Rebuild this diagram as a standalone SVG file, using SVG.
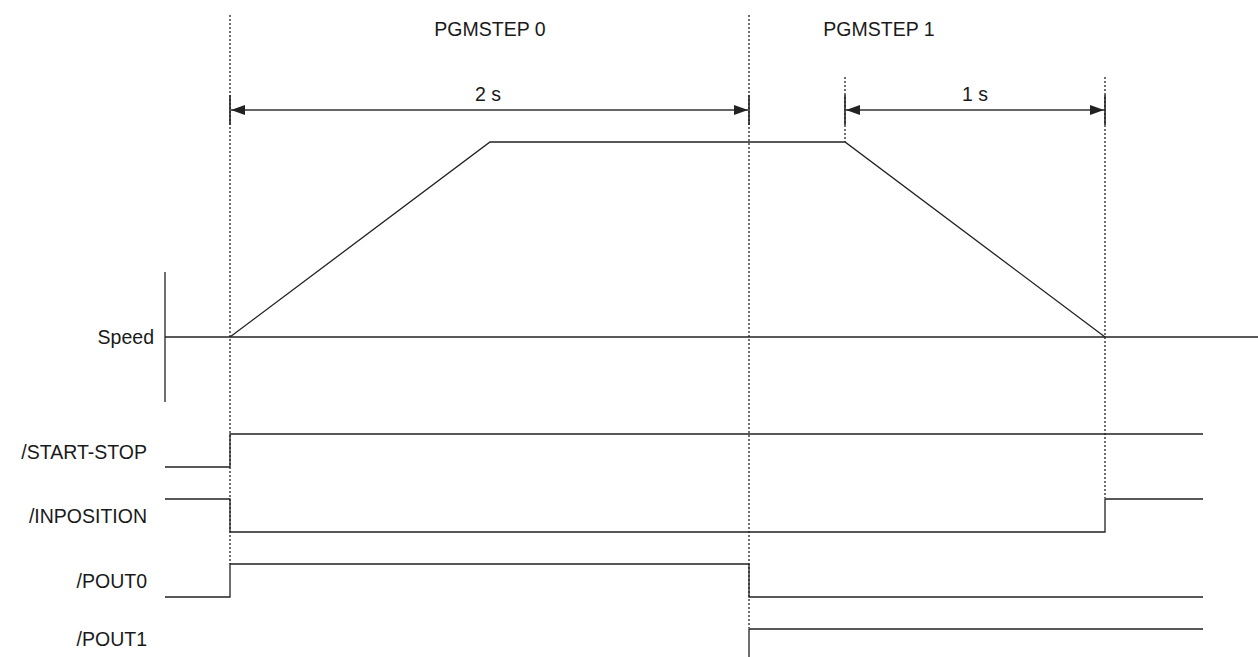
<svg xmlns="http://www.w3.org/2000/svg" width="1258" height="657" viewBox="0 0 1258 657">
<style>
.lbl{font-family:"Liberation Sans",Arial,sans-serif;font-size:19.5px;fill:#1a1a1a}
.sig{fill:none;stroke:#222;stroke-width:1.3}
.dot{fill:none;stroke:#222;stroke-width:1.3;stroke-dasharray:2,2}
.dim{fill:none;stroke:#333;stroke-width:1.3}
.tick{stroke:#222;stroke-width:1.6}
</style>
<defs>
<marker id="ah" viewBox="0 0 14 10" refX="14" refY="5" markerWidth="14" markerHeight="10" markerUnits="userSpaceOnUse" orient="auto-start-reverse">
<path d="M0,0 L14,5 L0,10 z" fill="#222"/>
</marker>
</defs>
<rect width="1258" height="657" fill="#fff"/>
<g id="guides">
<line class="dot" x1="230" y1="15" x2="230" y2="564"/>
<line class="dot" x1="749" y1="15" x2="749" y2="628"/>
<line class="dot" x1="845" y1="77" x2="845" y2="142"/>
<line class="dot" x1="1105" y1="77" x2="1105" y2="498"/>
</g>
<g id="titles">
<text class="lbl" x="490" y="36" text-anchor="middle">PGMSTEP 0</text>
<text class="lbl" x="879" y="36" text-anchor="middle">PGMSTEP 1</text>
</g>
<g id="connectors">
<line class="dim" x1="231" y1="110" x2="748" y2="110" marker-start="url(#ah)" marker-end="url(#ah)"/>
<line class="tick" x1="230" y1="95" x2="230" y2="125"/>
<line class="tick" x1="749" y1="95" x2="749" y2="125"/>
<line class="dim" x1="846" y1="110" x2="1104" y2="110" marker-start="url(#ah)" marker-end="url(#ah)"/>
<line class="tick" x1="845" y1="95" x2="845" y2="125"/>
<line class="tick" x1="1105" y1="95" x2="1105" y2="125"/>
<text class="lbl" x="488" y="101" text-anchor="middle">2 s</text>
<text class="lbl" x="975" y="101" text-anchor="middle">1 s</text>
</g>
<g id="speed">
<text class="lbl" x="154" y="344" text-anchor="end">Speed</text>
<line class="sig" x1="165" y1="272" x2="165" y2="402"/>
<line class="sig" x1="165" y1="337" x2="1258" y2="337"/>
<polyline class="sig" points="230,337 490,142 845,142 1105,337"/>
</g>
<g id="start-stop">
<text class="lbl" x="147" y="459" text-anchor="end">/START-STOP</text>
<polyline class="sig" points="165,467 230,467 230,434 1203,434"/>
</g>
<g id="inposition">
<text class="lbl" x="147" y="523" text-anchor="end">/INPOSITION</text>
<polyline class="sig" points="165,499 230,499 230,532 1105,532 1105,499 1203,499"/>
</g>
<g id="pout0">
<text class="lbl" x="147" y="588" text-anchor="end">/POUT0</text>
<polyline class="sig" points="165,597 230,597 230,564 749,564 749,597 1203,597"/>
</g>
<g id="pout1">
<text class="lbl" x="147" y="646" text-anchor="end">/POUT1</text>
<polyline class="sig" points="749,657 749,629 1203,629"/>
</g>
</svg>
